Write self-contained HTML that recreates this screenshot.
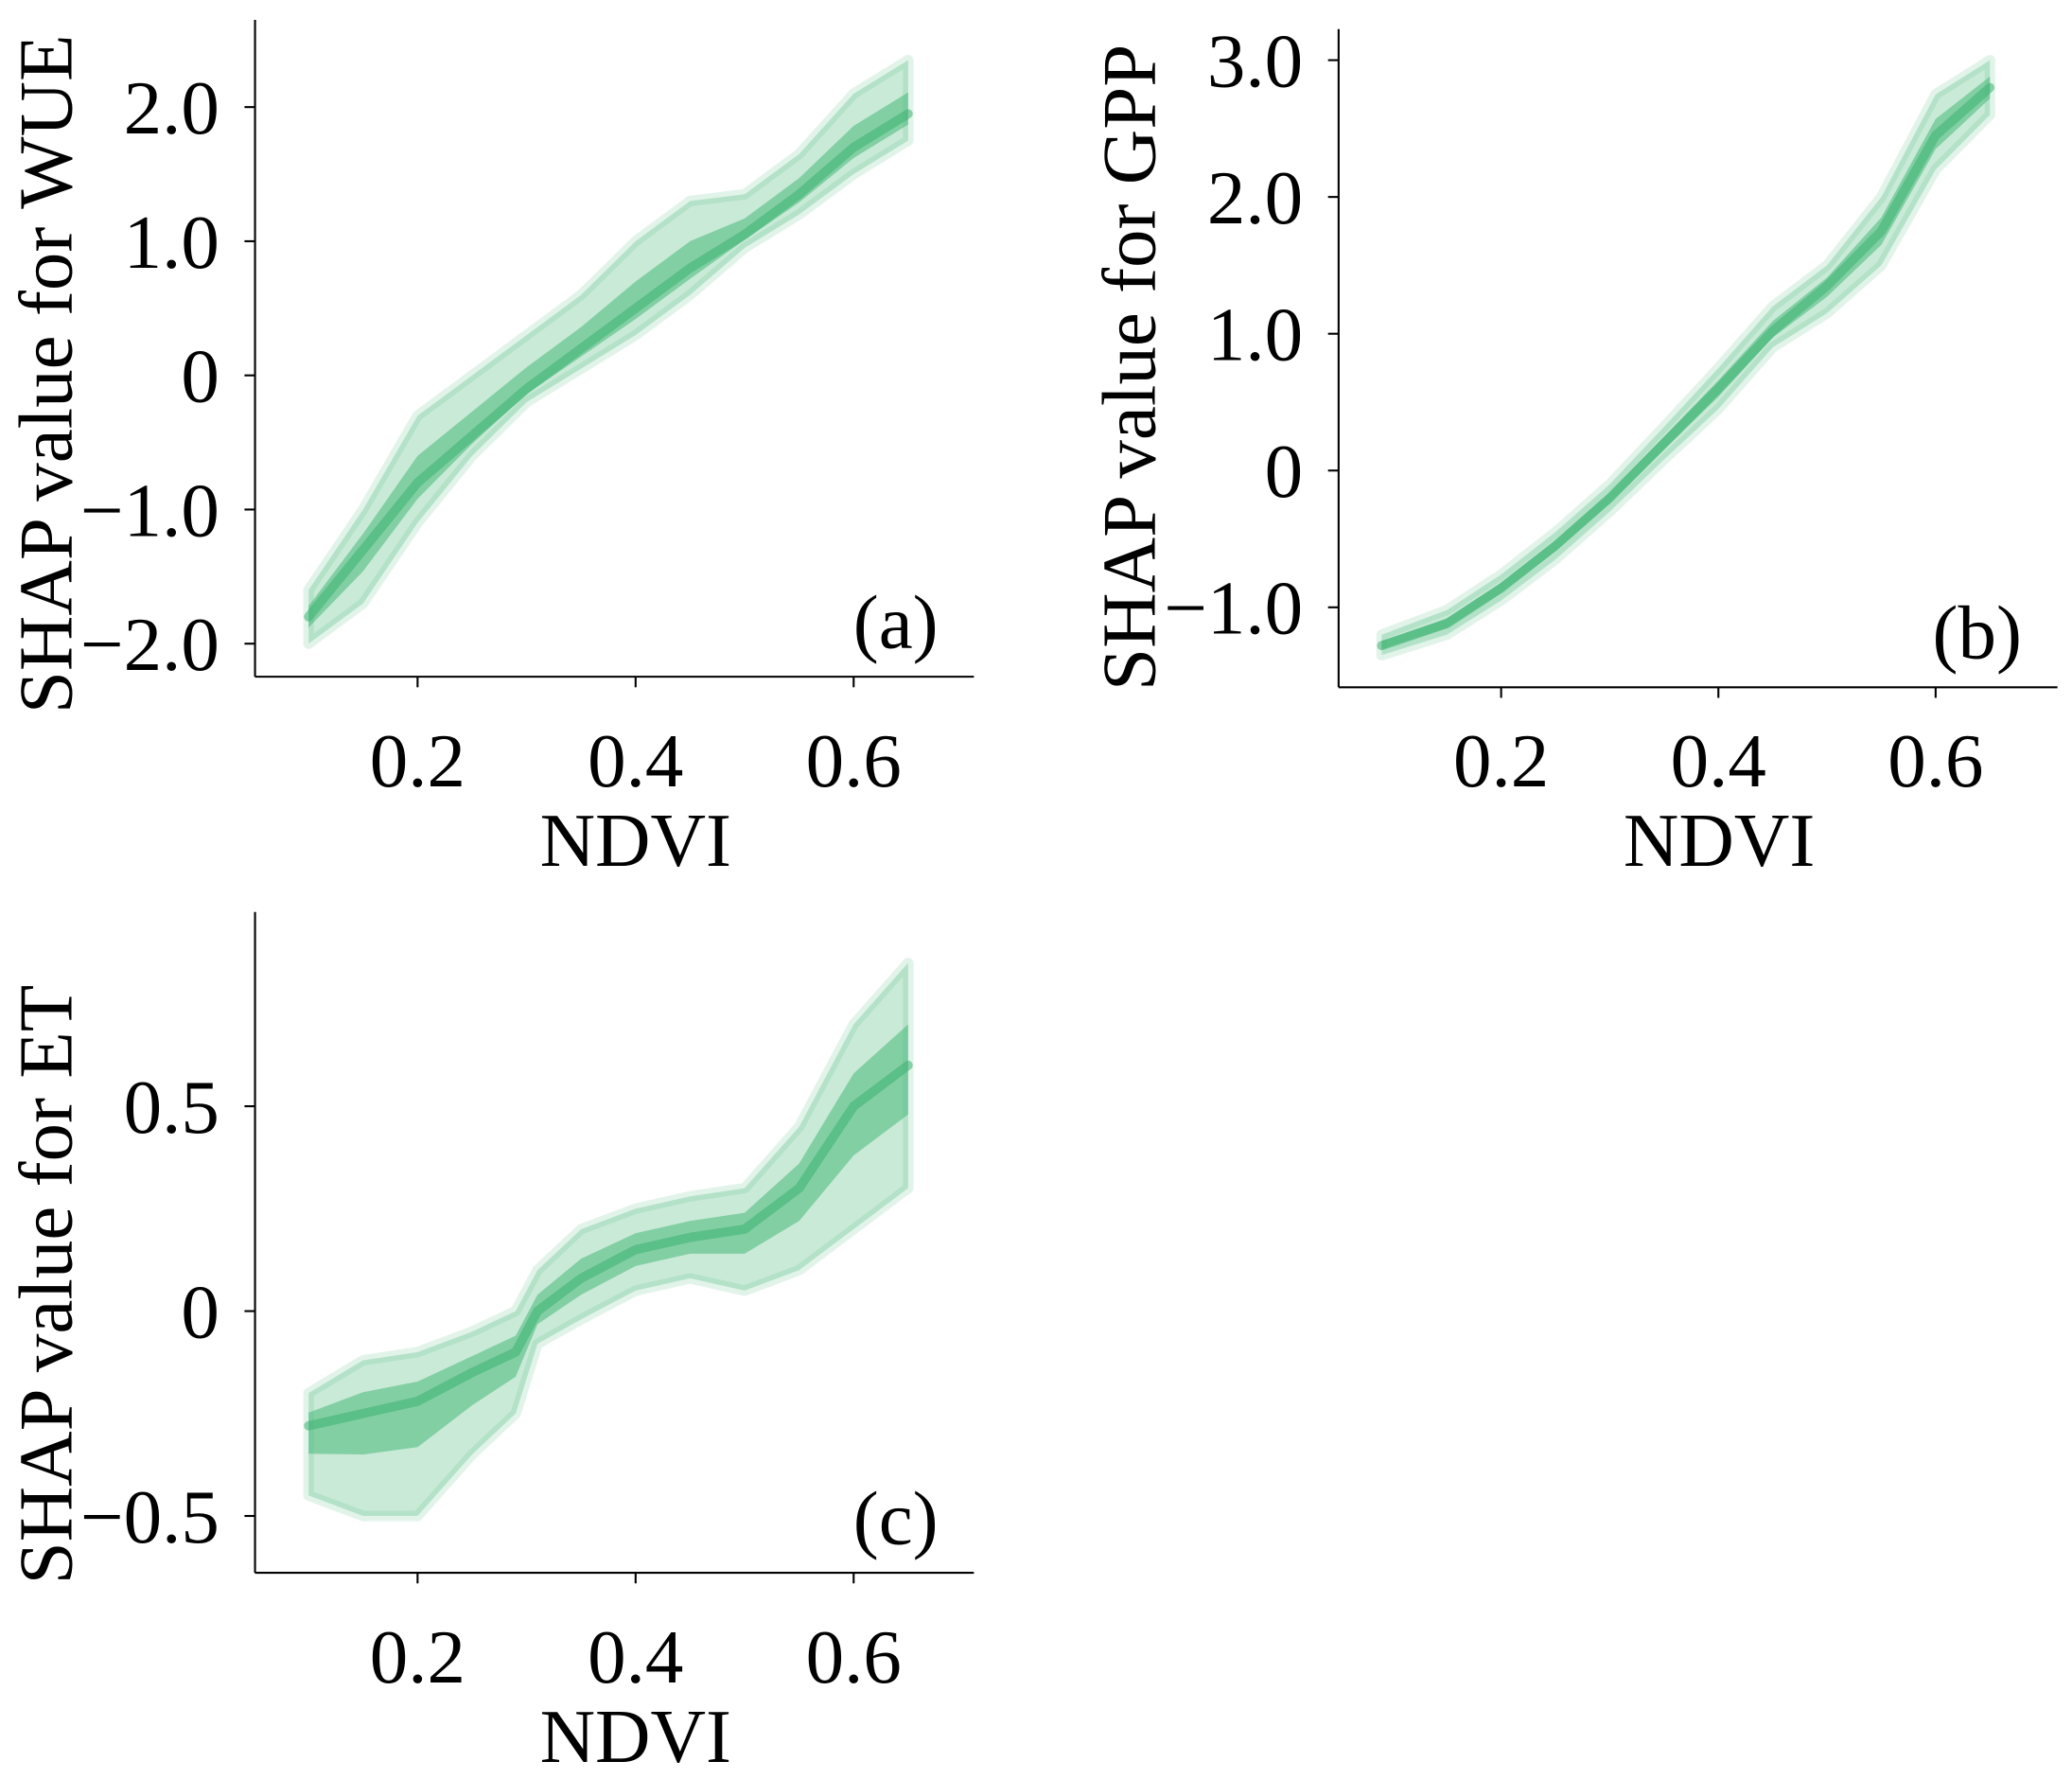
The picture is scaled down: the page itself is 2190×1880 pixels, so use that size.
<!DOCTYPE html>
<html><head><meta charset="utf-8"><style>
html,body{margin:0;padding:0;background:#fff}
svg{display:block}
text{font-family:"Liberation Serif",serif;fill:#000}
</style></head><body>
<svg id="fig" width="2190" height="1880" viewBox="0 0 1568 1346" xmlns="http://www.w3.org/2000/svg"></svg>
<script>
// Panel (a) WUE
const ndviA=[0.10,0.15,0.20,0.25,0.30,0.35,0.40,0.45,0.50,0.55,0.60,0.65];
const lowA=[-2.0,-1.7,-1.1,-0.6,-0.2,0.05,0.3,0.6,0.95,1.2,1.5,1.75];
const midA=[-1.8,-1.3,-0.8,-0.45,-0.1,0.2,0.5,0.8,1.05,1.35,1.7,1.95];
const highA=[-1.6,-1.0,-0.3,0.0,0.3,0.6,1.0,1.3,1.35,1.65,2.1,2.35];
// Panel (b) GPP
const ndviB=[0.09,0.15,0.20,0.25,0.30,0.35,0.40,0.45,0.50,0.55,0.60,0.65];
const lowB=[-1.35,-1.2,-0.95,-0.65,-0.3,0.08,0.45,0.9,1.15,1.5,2.2,2.6];
const midB=[-1.28,-1.12,-0.86,-0.55,-0.2,0.2,0.6,1.02,1.35,1.75,2.45,2.8];
const highB=[-1.2,-1.02,-0.76,-0.45,-0.1,0.32,0.75,1.2,1.5,2.0,2.75,3.0];
// Panel (c) ET
const ndviC=[0.10,0.15,0.20,0.25,0.29,0.31,0.35,0.40,0.45,0.50,0.55,0.60,0.65];
const lowC=[-0.45,-0.5,-0.5,-0.35,-0.25,-0.08,-0.02,0.05,0.08,0.05,0.1,0.2,0.3];
const midC=[-0.28,-0.25,-0.22,-0.15,-0.1,0.0,0.08,0.15,0.18,0.2,0.3,0.5,0.6];
const highC=[-0.2,-0.12,-0.1,-0.05,0.0,0.1,0.2,0.25,0.28,0.3,0.45,0.7,0.85];
const xTicks=[0.2,0.4,0.6];
const xTickLabels=["0.2","0.4","0.6"];
const yTicksA=[-2,-1,0,1,2], yLabA=["\u22122.0","\u22121.0","0","1.0","2.0"];
const yTicksB=[-1,0,1,2,3], yLabB=["\u22121.0","0","1.0","2.0","3.0"];
const yTicksC=[-0.5,0,0.5], yLabC=["\u22120.5","0","0.5"];

const NS="http://www.w3.org/2000/svg";
const svg=document.getElementById('fig');
function mk(tag,attrs,parent){const e=document.createElementNS(NS,tag);for(const k in attrs)e.setAttribute(k,attrs[k]);(parent||svg).appendChild(e);return e;}

function panel(cfg){
  const g=mk('g',{});
  
  
  const X=v=>cfg.x0+(v-0.2)*cfg.xs;
  const Y=v=>cfg.y0-v*cfg.ys;
  let pts=cfg.nd.map((n,i)=>X(n)+','+Y(cfg.hi[i]));
  pts=pts.concat(cfg.nd.map((n,i)=>X(n)+','+Y(cfg.lo[i])).reverse());
  const env=mk('polygon',{points:pts.join(' '),fill:'#3cb371','fill-opacity':0.28,stroke:'#3cb371','stroke-opacity':0.15,'stroke-width':8,'stroke-linejoin':'round'},g);
  
  
  let cp=cfg.nd.map((n,i)=>X(n)+','+Y(cfg.mid[i]+(cfg.hi[i]-cfg.mid[i])*0.4));
  cp=cp.concat(cfg.nd.map((n,i)=>X(n)+','+Y(cfg.mid[i]-(cfg.mid[i]-cfg.lo[i])*0.4)).reverse());
  const core=mk('polygon',{points:cp.join(' '),fill:'#3cb371','fill-opacity':0.5},g);
  
  
  const ml=mk('polyline',{points:cfg.nd.map((n,i)=>X(n)+','+Y(cfg.mid[i])).join(' '),fill:'none',stroke:'#3cb371','stroke-width':7,'stroke-opacity':0.55,'stroke-linejoin':'round','stroke-linecap':'round'},g);
  
  
  const ya=mk('line',{x1:cfg.ax,y1:cfg.top,x2:cfg.ax,y2:cfg.bot,stroke:'#000','stroke-width':1.5},g);
  
  
  const xa=mk('line',{x1:cfg.ax,y1:cfg.bot,x2:cfg.ax+544,y2:cfg.bot,stroke:'#000','stroke-width':1.5},g);
  
  
  xTicks.forEach((t,i)=>{
    mk('line',{x1:X(t),y1:cfg.bot,x2:X(t),y2:cfg.bot+8,stroke:'#000','stroke-width':1.5},g);
    const tx=mk('text',{x:X(t),y:cfg.bot+83+cfg.xoff,'font-size':58,'text-anchor':'middle'},g);
    tx.textContent=xTickLabels[i];
    
    
  });
  cfg.yt.forEach((t,i)=>{
    mk('line',{x1:cfg.ax-8,y1:Y(t),x2:cfg.ax,y2:Y(t),stroke:'#000','stroke-width':1.5},g);
    const tx=mk('text',{x:cfg.ax-27,y:Y(t)+20,'font-size':58,'text-anchor':'end'},g);
    tx.textContent=cfg.yl[i];
    
    
  });
  const xt=mk('text',{x:cfg.x0+165,y:cfg.bot+143+cfg.xoff,'font-size':58,'text-anchor':'middle'},g);
  xt.textContent='NDVI';
  
  
  const yt=mk('text',{x:0,y:0,'font-size':58,'text-anchor':'middle',transform:`translate(${cfg.ax-139},${cfg.yc}) rotate(-90)`},g);
  yt.textContent=cfg.ytitle;
  
  
  const pl=mk('text',{x:cfg.ax+517,y:cfg.bot-22,'font-size':58,'text-anchor':'end'},g);
  pl.textContent=cfg.label;
  
  
}
panel({name:'panel-a-wue',ax:193,top:15,bot:512,xoff:0,yc:283,x0:316,xs:825,y0:284,ys:101.5,nd:ndviA,lo:lowA,mid:midA,hi:highA,yt:yTicksA,yl:yLabA,ytitle:'SHAP value for WUE',label:'(a)'});
panel({name:'panel-b-gpp',ax:1013,top:22,bot:520,xoff:-8,yc:278,x0:1136,xs:822,y0:356,ys:103.5,nd:ndviB,lo:lowB,mid:midB,hi:highB,yt:yTicksB,yl:yLabB,ytitle:'SHAP value for GPP',label:'(b)'});
panel({name:'panel-c-et',ax:193,top:690,bot:1190,xoff:0,yc:972,x0:316,xs:825,y0:992,ys:310,nd:ndviC,lo:lowC,mid:midC,hi:highC,yt:yTicksC,yl:yLabC,ytitle:'SHAP value for ET',label:'(c)'});
</script>
</body></html>
